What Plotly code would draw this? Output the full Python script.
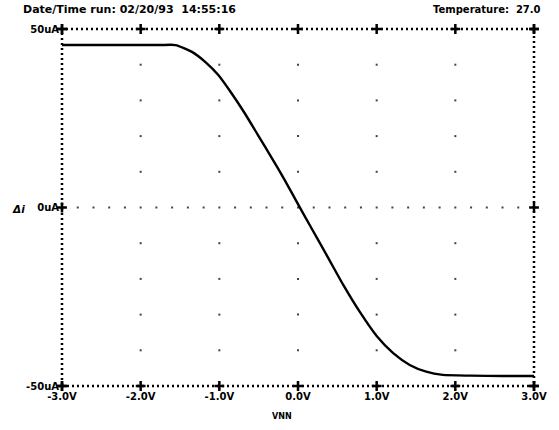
import plotly.graph_objects as go

# Data
vnn = [-3.0, -2.5, -2.0, -1.75, -1.557, -1.348, -1.180, -1.013, -0.845, -0.677, -0.509,
       -0.342, -0.174, -0.044, 0.161, 0.371, 0.581, 0.790, 1.0, 1.21, 1.42, 1.63, 1.84,
       2.2, 2.6, 3.0]
di = [45.5, 45.5, 45.5, 45.5, 45.5, 43.6, 40.8, 37.1, 32.0, 26.4, 20.3,
      14.2, 7.9, 2.7, -5.4, -13.6, -21.9, -29.4, -36.0, -40.8, -44.1, -46.0, -46.9,
      -47.1, -47.2, -47.2]

x_ticks = [-3, -2, -1, 0, 1, 2, 3]
x_tick_labels = ["-3.0V", "-2.0V", "-1.0V", "0.0V", "1.0V", "2.0V", "3.0V"]
y_ticks = [-50, 0, 50]
y_tick_labels = ["-50uA", "0uA", "50uA"]
grid_x = [-2, -1, 0, 1, 2]
grid_y = [-40, -30, -20, -10, 10, 20, 30, 40]
zero_row_x = [round(-3 + 0.2 * k, 1) for k in range(1, 30)]

title_left = "Date/Time run: 02/20/93  14:55:16"
title_right = "Temperature:  27.0"
y_label = "Δi"
x_label = "VNN"

FONT = "DejaVu Sans"
fig = go.Figure()

# sparse dotted grid
gx, gy = [], []
for x in grid_x:
    for y in grid_y:
        gx.append(x)
        gy.append(y)
for x in zero_row_x:
    gx.append(x)
    gy.append(0)
fig.add_trace(go.Scatter(x=gx, y=gy, mode="markers",
                         marker=dict(symbol="square", size=2, color="#444444", line=dict(width=0)),
                         hoverinfo="skip", showlegend=False))

# curve
fig.add_trace(go.Scatter(x=vnn, y=di, mode="lines",
                         line=dict(color="black", width=2.4, shape="spline", smoothing=0.6),
                         showlegend=False))

# tick crosses on the border
cx, cy = [], []
for x in x_ticks:
    cx += [x, x]
    cy += [50, -50]
for y in y_ticks:
    cx += [-3, 3]
    cy += [y, y]
fig.add_trace(go.Scatter(x=cx, y=cy, mode="markers", cliponaxis=False,
                         marker=dict(symbol="cross-thin", size=7, line=dict(width=2.5, color="black")),
                         hoverinfo="skip", showlegend=False))

# dotted frame
fig.add_shape(type="rect", xref="paper", yref="paper", x0=0, x1=1, y0=0, y1=1,
              line=dict(color="black", width=2.5, dash="2px,3px"), layer="above")

tick_font = dict(family=FONT, size=10, color="black", weight="bold")
fig.update_xaxes(range=[-3, 3], showgrid=False, zeroline=False, showline=False,
                 tickvals=x_ticks, ticktext=x_tick_labels, ticks="",
                 tickfont=tick_font, ticklabelstandoff=3)
fig.update_yaxes(range=[-50, 50], showgrid=False, zeroline=False, showline=False,
                 tickvals=y_ticks, ticktext=y_tick_labels, ticks="",
                 tickfont=tick_font, ticklabelstandoff=2)

W0, W1, H0, H1 = 62, 539, 29, 386
pw, ph = W1 - W0, H1 - H0

def px(xp):
    return (xp - W0) / pw

def py(yp):
    return (H1 - yp) / ph

hdr_font = dict(family=FONT, size=11, color="black")
fig.add_annotation(text="<b>" + title_left.replace("  ", "&nbsp;&nbsp;") + "</b>", xref="paper", yref="paper",
                   x=px(21), y=py(10), xanchor="left", yanchor="middle", showarrow=False, font=hdr_font)
fig.add_annotation(text="<b>" + title_right.replace("  ", "&nbsp;&nbsp;") + "</b>", xref="paper", yref="paper",
                   x=px(548), y=py(10), xanchor="right", yanchor="middle", showarrow=False,
                   font=dict(family=FONT, size=10, color="black"))
fig.add_annotation(text="<b><i>" + y_label + "</i></b>", xref="paper", yref="paper",
                   x=px(9), y=py(209), xanchor="left", yanchor="middle", showarrow=False,
                   font=dict(family=FONT, size=10.5, color="black"))
fig.add_annotation(text="<b>" + x_label + "</b>", xref="paper", yref="paper",
                   x=px(284), y=py(417), xanchor="center", yanchor="middle", showarrow=False,
                   font=dict(family=FONT, size=8, color="black"))

fig.update_layout(width=559, height=430, margin=dict(l=W0, r=559 - W1, t=H0, b=430 - H1),
                  plot_bgcolor="white", paper_bgcolor="white",
                  font=dict(family=FONT, size=10, color="black"))

fig.write_html("out.html", config={"displayModeBar": False},
               post_script="document.body.style.margin='0px';")
